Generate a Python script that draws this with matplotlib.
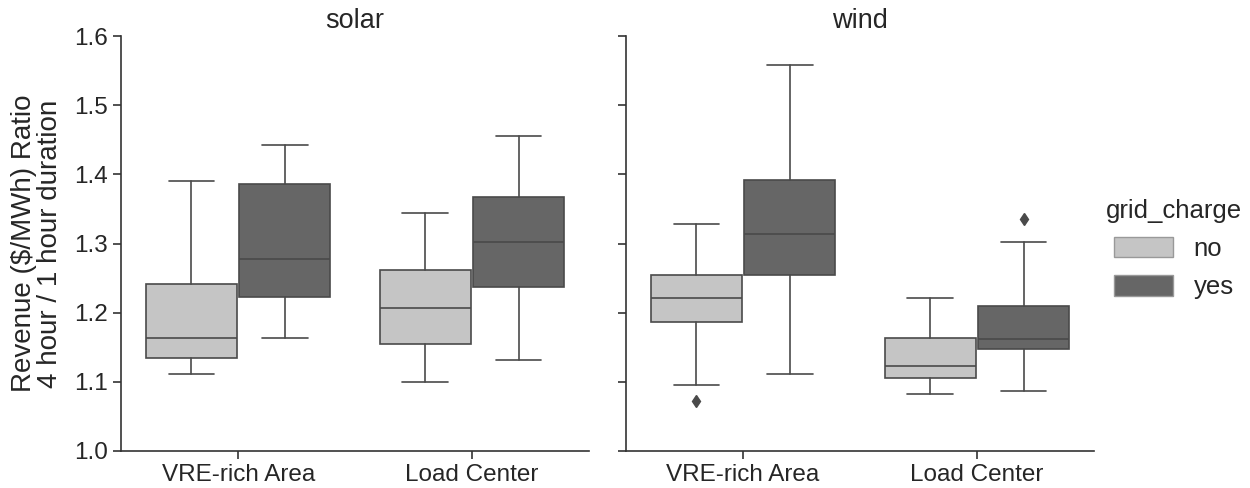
import matplotlib
matplotlib.use("Agg")
import matplotlib.pyplot as plt
import seaborn as sns
from matplotlib.patches import Patch

sns.set_style("ticks")
plt.rcParams['font.family'] = ['Liberation Sans', 'DejaVu Sans']

panels = ['solar', 'wind']
regions = ['VRE-rich Area', 'Load Center']
hues = ['no', 'yes']
hue_colors = {'no': '#c5c5c5', 'yes': '#666666'}
line_color = '#4a4a4a'

# box stats per panel / region / grid_charge: (low whisker, q1, median, q3, high whisker)
solar_no = [(1.111, 1.135, 1.163, 1.242, 1.390), (1.100, 1.155, 1.207, 1.262, 1.344)]
solar_yes = [(1.163, 1.222, 1.278, 1.386, 1.442), (1.131, 1.237, 1.302, 1.367, 1.456)]
wind_no = [(1.095, 1.186, 1.221, 1.255, 1.328), (1.082, 1.105, 1.123, 1.164, 1.221)]
wind_yes = [(1.111, 1.255, 1.314, 1.392, 1.558), (1.086, 1.147, 1.162, 1.210, 1.302)]
# outliers beyond the whiskers
solar_no_fl = [[], []]
solar_yes_fl = [[], []]
wind_no_fl = [[1.072], []]
wind_yes_fl = [[], [1.335]]

data = {
    'solar': {'no': (solar_no, solar_no_fl), 'yes': (solar_yes, solar_yes_fl)},
    'wind': {'no': (wind_no, wind_no_fl), 'yes': (wind_yes, wind_yes_fl)},
}

fig = plt.figure(figsize=(12.5, 4.88), dpi=100)
axes = [fig.add_axes([0.097, 0.076, 0.374, 0.85]),
        fig.add_axes([0.501, 0.076, 0.374, 0.85])]

width = 0.39
for ax, panel in zip(axes, panels):
    for j, h in enumerate(hues):
        vals, fliers = data[panel][h]
        stats = []
        for (lo, q1, med, q3, hi), fl in zip(vals, fliers):
            stats.append(dict(whislo=lo, q1=q1, med=med, q3=q3, whishi=hi, fliers=fl))
        pos = [i - 0.2 + 0.4 * j for i in range(len(regions))]
        ax.bxp(stats, positions=pos, widths=width, patch_artist=True,
               boxprops=dict(facecolor=hue_colors[h], edgecolor=line_color, linewidth=1.2),
               medianprops=dict(color=line_color, linewidth=1.2),
               whiskerprops=dict(color=line_color, linewidth=1.2),
               capprops=dict(color=line_color, linewidth=1.2),
               flierprops=dict(marker='d', markerfacecolor=line_color,
                               markeredgecolor=line_color, markersize=6))
    ax.set_xlim(-0.5, 1.5)
    ax.set_ylim(1.0, 1.6)
    ax.set_yticks([1.0, 1.1, 1.2, 1.3, 1.4, 1.5, 1.6])
    ax.set_xticks([0, 1])
    ax.set_xticklabels(regions)
    ax.set_title(panel, fontsize=19.5)
    ax.tick_params(labelsize=17.5, length=6, width=1.2, color='#333333')
    for s in ['left', 'bottom']:
        ax.spines[s].set_color('#333333')
        ax.spines[s].set_linewidth(1.2)
    sns.despine(ax=ax)

axes[1].set_yticklabels([])
axes[0].set_ylabel('Revenue ($/MWh) Ratio\n4 hour / 1 hour duration', fontsize=20,
                   linespacing=1.0, labelpad=8)

handles = [Patch(facecolor=hue_colors[h], edgecolor='#999999', label=h) for h in hues]
fig.legend(handles=handles, title='grid_charge', loc='center left',
           bbox_to_anchor=(0.866, 0.49), frameon=False, fontsize=18.5, title_fontsize=18.5,
           handlelength=2.3, handleheight=0.85, handletextpad=0.8, labelspacing=0.55)

fig.savefig('out.png', dpi=100)
